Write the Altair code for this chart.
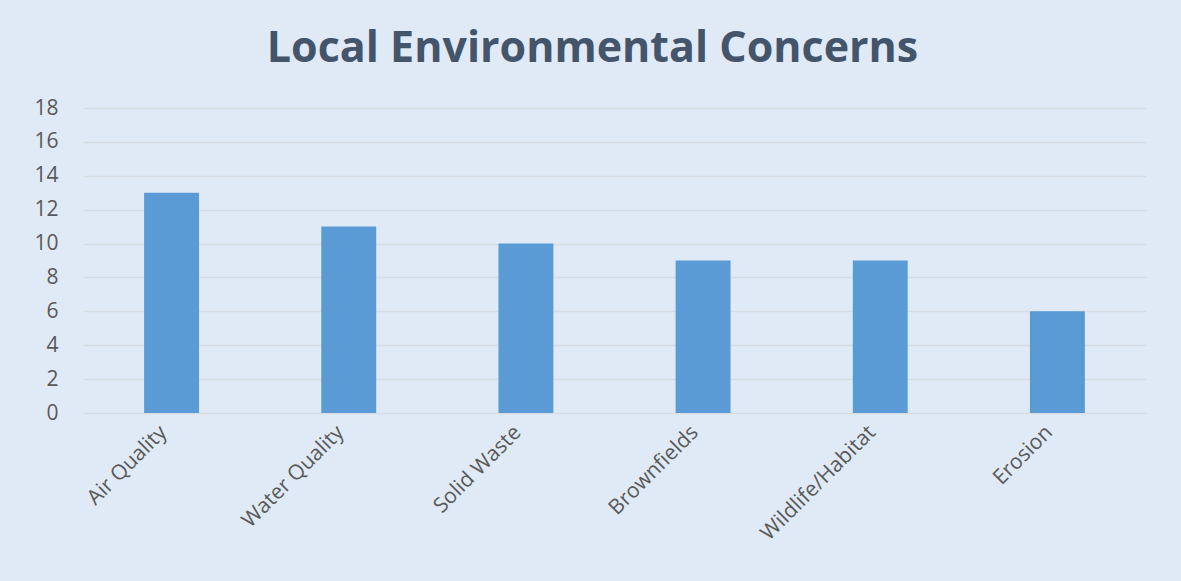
import altair as alt
import pandas as pd

categories = ["Air Quality", "Water Quality", "Solid Waste", "Brownfields", "Wildlife/Habitat", "Erosion"]
values = [13, 11, 10, 9, 9, 6]

df = pd.DataFrame({"category": categories, "value": values})

chart = alt.Chart(df).mark_bar(color="#5b9bd5").encode(
    x=alt.X("category:N", sort=categories,
            scale=alt.Scale(paddingInner=0.69, paddingOuter=0.345),
            axis=alt.Axis(title=None, labelAngle=-45, labelFont="Open Sans", labelFontSize=21,
                          labelColor="#595959", labelPadding=16, labelOffset=-8, ticks=False, domain=False,
                          labelAlign="right", labelBaseline="middle")),
    y=alt.Y("value:Q", scale=alt.Scale(domain=[0, 18]),
            axis=alt.Axis(title=None, values=list(range(0, 19, 2)), labelFont="Open Sans",
                          labelFontSize=21, labelColor="#595959", labelPadding=25,
                          ticks=False, domain=False, gridColor="#d5dce4", gridWidth=1.5)),
).properties(
    width=1063, height=305,
    title=alt.TitleParams("Local Environmental Concerns", font="Open Sans", fontSize=43,
                          fontWeight="bold", color="#44546a", anchor="middle", offset=26, dx=-22),
    background="#dfeaf6",
    padding={"left": 83, "top": 108, "right": 35, "bottom": 168},
    autosize=alt.AutoSizeParams(type="none"),
).configure_view(stroke=None)

chart.save("out.html", embed_options={"renderer": "svg", "actions": False})
